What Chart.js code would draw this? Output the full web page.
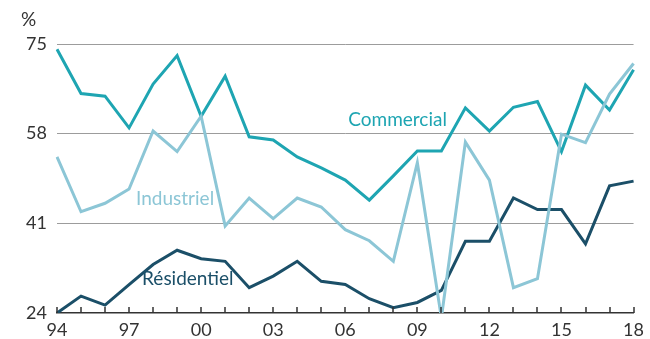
<!DOCTYPE html>
<html>
<head>
<meta charset="utf-8">
<script src="https://cdn.jsdelivr.net/npm/chart.js@4/dist/chart.umd.min.js"></script>
<style>
  html, body { margin: 0; padding: 0; background: #fff; }
  #wrap { width: 650px; height: 339px; position: relative; }
</style>
</head>
<body>
<div id="wrap"><canvas id="chart"></canvas></div>
<script>
// years 1994 - 2018
const years = ['94','95','96','97','98','99','00','01','02','03','04','05','06',
               '07','08','09','10','11','12','13','14','15','16','17','18'];

const commercial = [74.0, 65.6, 65.1, 59.1, 67.4, 72.8, 61.3, 68.9, 57.4, 56.8, 53.6, 51.5, 49.2,
                    45.4, 50.0, 54.7, 54.7, 62.9, 58.5, 63.0, 64.1, 54.6, 67.2, 62.5, 70.1];

const industriel = [53.6, 43.2, 44.8, 47.5, 58.5, 54.6, 61.3, 40.5, 45.8, 41.9, 45.8, 44.1, 39.8,
                    37.7, 33.8, 52.5, 23.1, 56.4, 49.2, 28.8, 30.5, 57.9, 56.3, 65.5, 71.3];

const residentiel = [24.0, 27.2, 25.5, 29.4, 33.2, 35.9, 34.3, 33.8, 28.8, 31.0, 33.8, 30.0, 29.4,
                     26.7, 25.0, 26.0, 28.3, 37.6, 37.6, 45.8, 43.6, 43.6, 37.1, 48.1, 49.0];

const yTicks = [24, 41, 58, 75];

const COL_COM = '#1ea5b2';
const COL_IND = '#8cc6d6';
const COL_RES = '#1b4f68';
const FONT = 'Lato, "Noto Sans", sans-serif';

// small plugin: tick marks above the axis, "%" unit and series labels
const decorations = {
    id: 'decorations',
    afterDatasetsDraw: function (chart) {
        const ctx = chart.ctx;
        const x = chart.scales.x;
        const y = chart.scales.y;
        const bottom = y.getPixelForValue(24);

        ctx.save();
        ctx.strokeStyle = '#333333';
        ctx.lineWidth = 1.5;
        ctx.beginPath();
        for (let i = 0; i < years.length; i++) {
            const px = Math.round(x.getPixelForValue(i));
            ctx.moveTo(px, bottom);
            ctx.lineTo(px, bottom - 6);
        }
        ctx.stroke();

        ctx.font = '19px ' + FONT;
        ctx.fillStyle = '#333';
        ctx.textAlign = 'left';
        ctx.textBaseline = 'alphabetic';
        ctx.fillText('%', 21, 26);

        ctx.font = '19px ' + FONT;
        ctx.fillStyle = COL_COM;
        ctx.fillText('Commercial', x.getPixelForValue(12) + 3, y.getPixelForValue(59.5));
        ctx.fillStyle = COL_IND;
        ctx.fillText('Industriel', x.getPixelForValue(3) + 7, y.getPixelForValue(44.5));
        ctx.fillStyle = COL_RES;
        ctx.fillText('Résidentiel', x.getPixelForValue(3) + 13, y.getPixelForValue(29.3));
        ctx.restore();
    }
};

function line(label, data, color) {
    return {
        label: label,
        data: data,
        borderColor: color,
        backgroundColor: color,
        borderWidth: 3,
        pointRadius: 0,
        tension: 0,
        fill: false
    };
}

const ctx = document.getElementById('chart').getContext('2d');
const myChart = new Chart(ctx, {
    type: 'line',
    data: {
        labels: years,
        datasets: [
            line('Industriel', industriel, COL_IND),
            line('Commercial', commercial, COL_COM),
            line('Résidentiel', residentiel, COL_RES)
        ]
    },
    options: {
        responsive: true,
        maintainAspectRatio: false,
        animation: false,
        layout: { padding: { top: 44, right: 12, left: 0, bottom: 0 } },
        plugins: {
            legend: { display: false },
            tooltip: { enabled: false }
        },
        scales: {
            x: {
                offset: false,
                grid: { display: false, drawTicks: false },
                border: { display: true, color: '#333', width: 1.5 },
                ticks: {
                    autoSkip: false,
                    maxRotation: 0,
                    padding: 6,
                    color: '#333',
                    font: { family: FONT, size: 18 },
                    callback: function (val, i) {
                        return i % 3 === 0 ? years[i] : '';
                    }
                },
                afterFit: function (scale) { scale.height = 26; }
            },
            y: {
                min: 24,
                max: 75,
                afterBuildTicks: function (scale) {
                    scale.ticks = yTicks.map(function (v) { return { value: v }; });
                },
                grid: {
                    drawTicks: false,
                    color: function (c) { return c.tick && c.tick.value === 24 ? 'rgba(0,0,0,0)' : '#9c9c9c'; },
                    lineWidth: 1
                },
                border: { display: false },
                ticks: {
                    padding: 10,
                    color: '#333',
                    font: { family: FONT, size: 18 }
                },
                afterFit: function (scale) { scale.width = 57; }
            }
        }
    },
    plugins: [decorations]
});
</script>
</body>
</html>
